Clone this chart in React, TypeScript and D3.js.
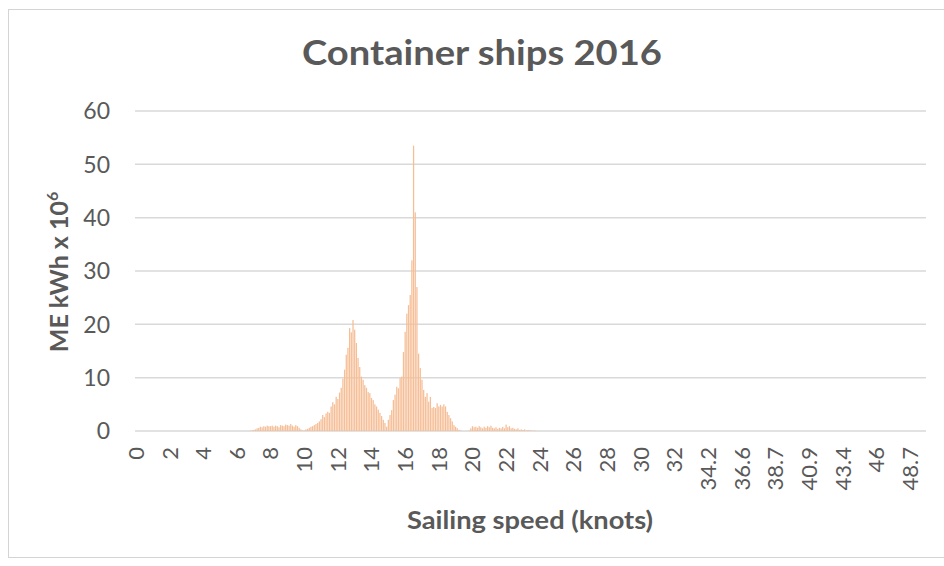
import React from "react";
import * as d3 from "d3";

// ---- data ----
const TITLE = "Container ships 2016";
const X_TITLE = "Sailing speed (knots)";
const Y_TITLE = "ME kWh x 10";
const Y_TICKS = [0, 10, 20, 30, 40, 50, 60];
const X_TICK_LABELS = [
  "0", "2", "4", "6", "8", "10", "12", "14", "16", "18", "20", "22", "24",
  "26", "28", "30", "32", "34.2", "36.6", "38.7", "40.9", "43.4", "46", "48.7",
];
const X_TICK_EVERY = 20; // one label every 20 categories
const CATEGORIES = d3.range(470); // speed categories (0.0, 0.1, ... then sparse high speeds)
const FIRST_CATEGORY_WITH_DATA = 60; // 6.0 knots
// ME energy (kWh x 10^6) for categories 6.0 .. 23.9 knots
const ME_KWH = [
  0, 0, 0, 0, 0, 0, 0, 0, 0.05, 0.1,
  0.2, 0.3, 0.5, 0.6, 0.8, 0.7, 0.9, 0.8, 1.0, 0.9,
  0.9, 1.0, 0.8, 1.0, 0.9, 0.7, 1.1, 1.0, 0.9, 1.2,
  1.1, 1.0, 1.3, 1.0, 0.8, 1.1, 0.9, 0.6, 0.3, 0.1,
  0.1, 0.3, 0.4, 0.6, 0.8, 0.9, 1.1, 1.3, 1.5, 1.8,
  2.2, 3.0, 2.6, 3.3, 3.6, 3.4, 4.6, 5.4, 5.0, 6.4,
  6.0, 7.2, 8.1, 9.8, 11.5, 14.3, 15.6, 19.3, 18.5, 20.8,
  19.0, 16.5, 13.7, 12.0, 10.2, 9.6, 8.6, 8.1, 7.3, 7.1,
  6.2, 5.8, 5.0, 4.6, 4.0, 3.4, 2.8, 2.1, 1.5, 0.8,
  2.1, 3.0, 3.9, 5.8, 6.8, 8.3, 8.0, 9.9, 10.2, 14.8,
  18.6, 22.0, 23.6, 25.5, 32.0, 53.5, 41.0, 27.0, 14.5, 11.8,
  9.6, 7.7, 6.4, 7.1, 5.5, 6.4, 4.3, 4.5, 4.3, 5.2,
  4.6, 4.9, 4.6, 5.0, 4.6, 3.6, 3.0, 2.4, 1.8, 1.1,
  0.8, 0.5, 0.2, 0.1, 0, 0, 0, 0, 0.1, 0.5,
  0.9, 0.7, 0.8, 0.6, 0.9, 0.7, 0.5, 0.8, 0.6, 0.9,
  0.7, 1.0, 0.6, 0.5, 0.7, 0.4, 0.6, 0.5, 0.8, 0.5,
  1.2, 0.7, 0.9, 0.5, 0.6, 0.4, 0.3, 0.5, 0.2, 0.3,
  0.2, 0.3, 0.1, 0.2, 0.1, 0.1, 0.05, 0.1, 0, 0,
];

const W = 944;
const H = 566;
const TEXT = "#595959";
const GRID = "#d9d9d9";
const BAR = "#F6BE96";
const FONT = "Lato, 'Open Sans', sans-serif";

export default function App() {
  const plot = { left: 135, right: 926, top: 111, bottom: 431 };
  const x = d3
    .scaleBand<number>()
    .domain(CATEGORIES)
    .range([plot.left, plot.right])
    .paddingInner(0.25)
    .paddingOuter(0.2);
  const y = d3.scaleLinear().domain([0, 60]).range([plot.bottom, plot.top]);

  const bars = ME_KWH.map((v, k) => ({ cat: FIRST_CATEGORY_WITH_DATA + k, v })).filter(
    (d) => d.v > 0
  );

  const ticks = X_TICK_LABELS.map((label, k) => ({
    label,
    cx: (x(k * X_TICK_EVERY) as number) + x.bandwidth() / 2,
  }));

  return (
    <svg
      width={W}
      height={H}
      style={{ position: "absolute", left: 0, top: 0, background: "#fff" }}
      fontFamily={FONT}
    >
      <rect x={8.5} y={9.5} width={W + 10} height={548} fill="#fff" stroke="#d4d4d4" />
      <text
        x={482}
        y={65}
        textAnchor="middle"
        fontSize={34}
        fontWeight={700}
        fill={TEXT}
        textLength={360}
        lengthAdjust="spacingAndGlyphs"
      >
        {TITLE}
      </text>

      {Y_TICKS.map((t) => (
        <g key={t}>
          <line
            x1={plot.left}
            x2={plot.right}
            y1={y(t)}
            y2={y(t)}
            stroke={GRID}
            strokeWidth={1.5}
          />
          <text
            x={110}
            y={y(t)}
            dy="0.36em"
            textAnchor="end"
            fontSize={23}
            fill={TEXT}
          >
            {t}
          </text>
        </g>
      ))}

      {bars.map((d) => (
        <rect
          key={d.cat}
          x={x(d.cat) as number}
          width={x.bandwidth()}
          y={y(d.v)}
          height={y(0) - y(d.v)}
          fill={BAR}
        />
      ))}

      {ticks.map((t) => (
        <text
          key={t.label}
          transform={`translate(${t.cx},447) rotate(-90)`}
          dy="0.36em"
          textAnchor="end"
          fontSize={22}
          fill={TEXT}
        >
          {t.label}
        </text>
      ))}

      <text
        x={530}
        y={529}
        textAnchor="middle"
        fontSize={24}
        fontWeight={700}
        fill={TEXT}
        textLength={246}
        lengthAdjust="spacingAndGlyphs"
      >
        {X_TITLE}
      </text>

      <text
        transform="translate(68,272) rotate(-90)"
        textAnchor="middle"
        fontSize={25}
        fontWeight={700}
        fill={TEXT}
      >
        {Y_TITLE}
        <tspan fontSize={16} dy={-10}>
          6
        </tspan>
      </text>
    </svg>
  );
}
